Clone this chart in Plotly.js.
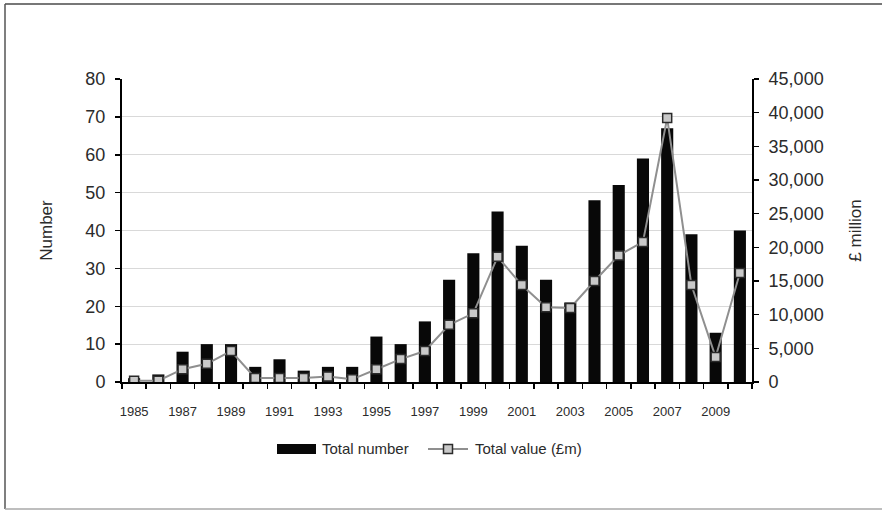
<!DOCTYPE html>
<html>
<head>
<meta charset="utf-8">
<script src="https://cdn.plot.ly/plotly-3.0.1.min.js"></script>
<style>
  html, body { margin: 0; padding: 0; background: #fff; }
  #chart { width: 882px; height: 511px; }
</style>
</head>
<body>
<div id="chart"></div>
<script>
// Years covered
const years = [1985, 1986, 1987, 1988, 1989, 1990, 1991, 1992, 1993, 1994, 1995, 1996, 1997,
               1998, 1999, 2000, 2001, 2002, 2003, 2004, 2005, 2006, 2007, 2008, 2009, 2010];

// Total number of deals per year (left axis)
const totalNumber = [1, 2, 8, 10, 10, 4, 6, 3, 4, 4, 12, 10, 16,
                     27, 34, 45, 36, 27, 21, 48, 52, 59, 67, 39, 13, 40];

// Total value per year, £ million (right axis)
const totalValue = [200, 200, 1900, 2700, 4600, 600, 600, 600, 800, 400, 1900, 3400, 4600,
                    8500, 10200, 18600, 14400, 11100, 11000, 15000, 18800, 20800, 39200, 14400, 3700, 16200];

// Every other year is labelled on the category axis
const xTickYears = [1985, 1987, 1989, 1991, 1993, 1995, 1997, 1999, 2001, 2003, 2005, 2007, 2009];
const xTickText = xTickYears.map(String);

const seriesNames = ['Total number', 'Total value (£m)'];

const FONT = 'Liberation Sans, Arial, sans-serif';
const TEXT = '#2b2b2b';

// plot area in pixels
const L = 122, R = 752, T = 79, B = 382;
const W = R - L, H = B - T;
const px = x => (x - L) / W;
const py = y => (B - y) / H;

const traces = [
  {
    type: 'bar',
    name: seriesNames[0],
    x: years,
    y: totalNumber,
    width: 0.5,
    marker: { color: '#080808', line: { width: 0 } },
    yaxis: 'y',
    hoverinfo: 'x+y'
  },
  {
    type: 'scatter',
    mode: 'lines+markers',
    name: seriesNames[1],
    x: years,
    y: totalValue,
    yaxis: 'y2',
    line: { color: '#8f8f8f', width: 2 },
    marker: { symbol: 'square', size: 9, color: '#c9c9c9', line: { color: '#2a2a2a', width: 1.5 } },
    hoverinfo: 'x+y'
  }
];

// custom legend: wide bar swatch and line-with-marker swatch
const legY = 449;
const shapes = [
  // outer frame (top, left, bottom)
  { type: 'line', xref: 'paper', yref: 'paper', x0: px(5), x1: px(882), y0: py(4), y1: py(4),
    line: { color: '#4a4a4a', width: 1.5 } },
  { type: 'line', xref: 'paper', yref: 'paper', x0: px(5), x1: px(5), y0: py(4), y1: py(509),
    line: { color: '#555555', width: 1.5 } },
  { type: 'line', xref: 'paper', yref: 'paper', x0: px(5), x1: px(882), y0: py(509), y1: py(509),
    line: { color: '#a8a8a8', width: 1.5 } },
  // legend swatches
  { type: 'rect', xref: 'paper', yref: 'paper', x0: px(277), x1: px(316), y0: py(444), y1: py(454),
    fillcolor: '#080808', line: { width: 0 } },
  { type: 'line', xref: 'paper', yref: 'paper', x0: px(428), x1: px(468), y0: py(legY), y1: py(legY),
    line: { color: '#8f8f8f', width: 2 } },
  { type: 'rect', xref: 'paper', yref: 'paper', x0: px(443.5), x1: px(452.5), y0: py(444.5), y1: py(453.5),
    fillcolor: '#c9c9c9', line: { color: '#2a2a2a', width: 1.5 } }
];

const annotations = [
  { xref: 'paper', yref: 'paper', x: px(320), y: py(legY), xanchor: 'left', yanchor: 'middle',
    text: seriesNames[0], showarrow: false, font: { family: FONT, size: 15, color: TEXT } },
  { xref: 'paper', yref: 'paper', x: px(473), y: py(legY), xanchor: 'left', yanchor: 'middle',
    text: seriesNames[1], showarrow: false, font: { family: FONT, size: 15, color: TEXT } }
];

const layout = {
  width: 882,
  height: 511,
  margin: { l: L, r: 882 - R, t: T, b: 511 - B, pad: 0 },
  paper_bgcolor: '#ffffff',
  plot_bgcolor: '#ffffff',
  showlegend: false,
  font: { family: FONT, color: TEXT },
  xaxis: {
    range: [1984.5, 2010.5],
    tickmode: 'array',
    tickvals: xTickYears,
    ticktext: xTickText,
    ticks: '',
    ticklabelstandoff: 16,
    tickfont: { family: FONT, size: 13, color: TEXT },
    showgrid: false,
    zeroline: false,
    showline: true,
    linecolor: '#000',
    linewidth: 2,
    minor: { tickmode: 'linear', tick0: 1984.5, dtick: 1, ticks: 'outside', ticklen: 5,
             tickwidth: 1.5, tickcolor: '#000', showgrid: false },
    fixedrange: true
  },
  yaxis: {
    range: [0, 80],
    dtick: 10,
    ticks: 'outside',
    ticklen: 5,
    tickwidth: 1.5,
    tickcolor: '#000',
    ticklabelstandoff: 6,
    tickfont: { family: FONT, size: 18, color: TEXT },
    showline: true,
    linecolor: '#000',
    linewidth: 2,
    showgrid: true,
    gridcolor: '#d9d9d9',
    gridwidth: 1,
    zeroline: false,
    title: { text: 'Number', font: { family: FONT, size: 17, color: TEXT }, standoff: 28 },
    fixedrange: true
  },
  yaxis2: {
    overlaying: 'y',
    side: 'right',
    range: [0, 45000],
    dtick: 5000,
    tickformat: ',d',
    separatethousands: true,
    ticks: 'outside',
    ticklen: 5,
    tickwidth: 1.5,
    tickcolor: '#000',
    ticklabelstandoff: 6,
    tickfont: { family: FONT, size: 18, color: TEXT },
    showline: true,
    linecolor: '#000',
    linewidth: 2,
    showgrid: false,
    zeroline: false,
    title: { text: '£ million', font: { family: FONT, size: 17, color: TEXT }, standoff: 26 },
    fixedrange: true
  },
  shapes: shapes,
  annotations: annotations
};

Plotly.newPlot('chart', traces, layout, { displayModeBar: false, staticPlot: true });
</script>
</body>
</html>
